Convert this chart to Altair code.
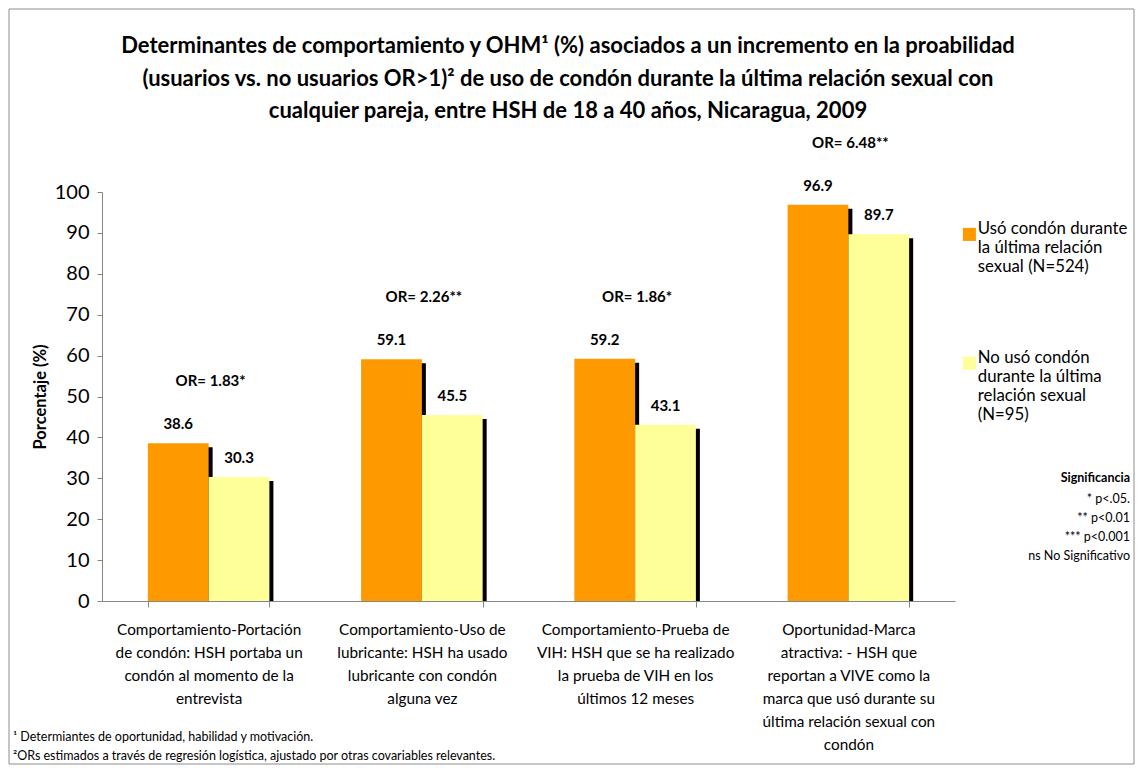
import altair as alt
import pandas as pd

categories = [
    "Comportamiento-Portación\nde condón: HSH portaba un\ncondón al momento de la\nentrevista",
    "Comportamiento-Uso de\nlubricante: HSH ha usado\nlubricante con condón\nalguna vez",
    "Comportamiento-Prueba de\nVIH: HSH que se ha realizado\nla prueba de VIH en los\núltimos 12 meses",
    "Oportunidad-Marca\natractiva: - HSH que\nreportan a VIVE como la\nmarca que usó durante su\núltima relación sexual con\ncondón",
]
series = [
    "Usó condón durante\nla última relación\nsexual (N=524)",
    "No usó condón\ndurante la última\nrelación sexual\n(N=95)",
]
used = [38.6, 59.1, 59.2, 96.9]
not_used = [30.3, 45.5, 43.1, 89.7]
or_labels = ["OR= 1.83*", "OR= 2.26**", "OR= 1.86*", "OR= 6.48**"]
colors = ["#FF9900", "#FFFF99"]

title_lines = [
    "Determinantes de comportamiento y OHM¹ (%) asociados a un incremento en la proabilidad",
    "(usuarios vs. no usuarios OR>1)² de uso de condón durante la última relación sexual con",
    "cualquier pareja, entre HSH de 18 a 40 años, Nicaragua, 2009",
]
sig_title = "Significancia"
sig_lines = ["* p<.05.", "** p<0.01", "*** p<0.001", "ns No Significativo"]
footnotes = [
    "¹ Determiantes de oportunidad, habilidad y motivación.",
    "²ORs estimados a través de regresión logística, ajustado por otras covariables relevantes.",
]

FONT = "Lato"
W, H = 853, 409
PAD_IN = 0.43
STEP = W / (len(categories) - PAD_IN + 2 * (PAD_IN / 2))
BW = STEP * (1 - PAD_IN)
SH = 4  # shadow offset in px

rows = []
for c, u, n in zip(categories, used, not_used):
    rows.append({"cat": c, "series": series[0], "value": u})
    rows.append({"cat": c, "series": series[1], "value": n})
df = pd.DataFrame(rows)

or_df = pd.DataFrame({
    "cat": categories,
    "label": or_labels,
    "top": [max(u, n) for u, n in zip(used, not_used)],
})

x_enc = alt.X(
    "cat:N",
    sort=categories,
    scale=alt.Scale(paddingInner=PAD_IN, paddingOuter=PAD_IN / 2),
    axis=alt.Axis(
        title=None,
        labelAngle=0,
        tickBand="extent",
        tickSize=6,
        labelPadding=15,
        labelExpr="split(datum.label, '\\n')",
        labelLineHeight=23,
        labelFontSize=15.3,
        labelFont=FONT,
        labelBaseline="top",
        labelLimit=0,
        labelOverlap=False,
        labelColor="black",
        domainColor="#868686",
        tickColor="#868686",
    ),
)
xoff_main = alt.XOffset("series:N", sort=series, scale=alt.Scale(range=[0, BW]))
xoff_shadow = alt.XOffset("series:N", sort=series, scale=alt.Scale(range=[SH, BW + SH]))
y_enc = alt.Y(
    "value:Q",
    scale=alt.Scale(domain=[0, 100], nice=False),
    axis=alt.Axis(
        values=list(range(0, 101, 10)),
        grid=False,
        tickSize=5,
        labelPadding=8,
        labelFontSize=20,
        labelFont=FONT,
        labelColor="black",
        title="Porcentaje (%)",
        titleFont=FONT,
        titleFontSize=16.5,
        titleFontWeight="bold",
        titleColor="black",
        titlePadding=6,
        domainColor="#868686",
        tickColor="#868686",
    ),
)

base = alt.Chart(df)

shadow = base.mark_bar(color="black", yOffset=SH, clip=True).encode(
    x=x_enc, xOffset=xoff_shadow, y=y_enc
)

bars = base.mark_bar().encode(
    x=x_enc,
    xOffset=xoff_main,
    y=y_enc,
    color=alt.Color(
        "series:N",
        sort=series,
        scale=alt.Scale(domain=series, range=colors),
        legend=alt.Legend(
            orient="none",
            legendX=859,
            legendY=34,
            title=None,
            labelExpr="split(datum.label, '\\n')",
            labelFont=FONT,
            labelFontSize=16.8,
            labelBaseline="alphabetic",
            labelLimit=0,
            labelOffset=0,
            labelColor="black",
            symbolType="square",
            symbolSize=170,
            symbolStrokeWidth=0,
            symbolOpacity=1,
            rowPadding=74,
            padding=0,
        ),
    ),
)

value_labels = base.mark_text(
    font=FONT, fontSize=15, fontWeight="bold", dy=-19, baseline="middle", color="black"
).encode(
    x=x_enc,
    xOffset=xoff_main,
    y=y_enc,
    text=alt.Text("value:Q", format=".1f"),
)

or_text = alt.Chart(or_df).mark_text(
    font=FONT, fontSize=15, fontWeight="bold", dy=-62, dx=2, baseline="middle", color="black"
).encode(
    x=x_enc,
    y=alt.Y("top:Q"),
    text="label:N",
)

title_text = alt.Chart(pd.DataFrame({"t": ["\n".join(title_lines)]})).mark_text(
    font=FONT, fontSize=22, fontWeight="bold", lineBreak="\n", lineHeight=32.5,
    align="center", baseline="middle", color="black",
).encode(text="t:N", x=alt.value(466), y=alt.value(-146))

sig_head = alt.Chart(pd.DataFrame({"t": [sig_title]})).mark_text(
    font=FONT, fontSize=12.5, fontWeight="bold", align="right", baseline="middle", color="black"
).encode(text="t:N", x=alt.value(1028), y=alt.value(286))

sig_body = alt.Chart(pd.DataFrame({"t": ["\n".join(sig_lines)]})).mark_text(
    font=FONT, fontSize=12.5, lineBreak="\n", lineHeight=19, align="right", baseline="middle",
    color="black",
).encode(text="t:N", x=alt.value(1028), y=alt.value(307))

foot = alt.Chart(pd.DataFrame({"t": ["\n".join(footnotes)]})).mark_text(
    font=FONT, fontSize=12.5, lineBreak="\n", lineHeight=19, align="left", baseline="middle",
    color="black",
).encode(text="t:N", x=alt.value(-89), y=alt.value(545))

border = alt.Chart(pd.DataFrame({"a": [0]})).mark_rect(
    filled=False, stroke="#8c8c8c", strokeWidth=1
).encode(x=alt.value(-93), x2=alt.value(1032), y=alt.value(-183), y2=alt.value(572))

chart = alt.layer(
    shadow, bars, value_labels, or_text, title_text, sig_head, sig_body, foot, border
).resolve_scale(
    xOffset="independent"
).properties(
    width=W,
    height=H,
    padding={"left": 94, "top": 184, "right": 180, "bottom": 164},
    autosize=alt.AutoSizeParams(type="none"),
    background="white",
).configure_view(stroke=None)

chart.save("out.html", embed_options={"renderer": "svg", "actions": False})
